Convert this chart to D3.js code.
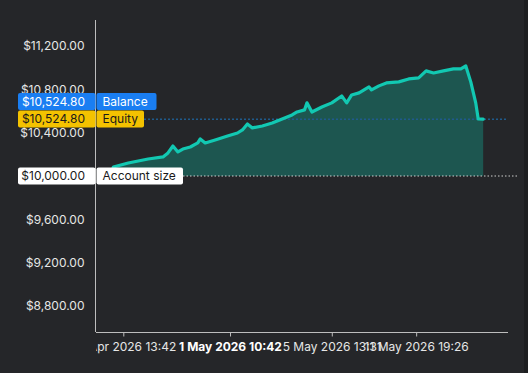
<!DOCTYPE html>
<html lang="en">
<head>
    <meta charset="UTF-8">
    <title>Equity chart</title>
    <style>
        body {
            margin: 0;
            padding: 0;
            overflow: hidden;
            background: #252629;
        }
        svg text {
            font-family: Inter, "Open Sans", sans-serif;
            font-size: 12px;
        }
    </style>
</head>
<body>
<svg id="graph" width="528" height="373"></svg>
<script src="https://cdn.jsdelivr.net/npm/d3@7"></script>
<script>
    // trade number -> equity
    const trades = [6, 7, 13, 17, 21, 27, 29, 31, 33, 35, 38, 41, 42, 44, 48, 53, 57, 59, 61, 63, 67, 71, 75, 79, 81, 84,
        85, 87, 91, 95, 99, 101, 103, 106, 108, 110, 111, 114, 117, 122, 126, 130, 133, 136, 140, 144, 147, 149, 151,
        153, 154, 156]
    const equity = [10000, 10083, 10120, 10139, 10157, 10176, 10213, 10277, 10222, 10249, 10268, 10305, 10342, 10305,
        10333, 10370, 10397, 10425, 10480, 10444, 10462, 10490, 10527, 10564, 10591, 10610, 10675, 10591, 10637, 10675,
        10739, 10675, 10748, 10767, 10795, 10822, 10795, 10832, 10859, 10869, 10896, 10906, 10970, 10951, 10970, 10989,
        10989, 11016, 10869, 10675, 10527, 10524.8]

    const yTicks = [8800, 9200, 9600, 10000, 10400, 10800, 11200]
    const xTicks = [11, 54, 95, 129]
    const xTickLabels = ["27 Apr 2026 13:42", "1 May 2026 10:42", "5 May 2026 13:31", "11 May 2026 19:26"]
    const boldTick = 1

    const accountSize = 10000
    const balance = 10524.80
    const currentEquity = 10524.80

    const money = v => "$" + d3.format(",.2f")(v)

    const svg = d3.select("#graph")
    const mLeft = 96, mRight = 508, mTop = 20, mBottom = 332

    const x = d3.scaleLinear().domain([0, 166]).range([mLeft, mRight])
    const y = d3.scaleLinear().domain([8560, 11440]).range([mBottom, mTop])

    const data = trades.map((t, i) => ({t: t, v: equity[i]}))

    // scrollbar strip on the right
    svg.append("rect").attr("x", 524).attr("y", 0).attr("width", 4).attr("height", 373).attr("fill", "#1d1e20")

    // area down to account size
    const area = d3.area().x(d => x(d.t)).y0(y(accountSize)).y1(d => y(d.v))
    svg.append("path").datum(data).attr("d", area).attr("fill", "#1d5650")

    // balance / equity dotted line
    svg.append("line")
        .attr("x1", 144).attr("x2", mRight)
        .attr("y1", y(balance)).attr("y2", y(balance))
        .attr("stroke", "#1f5a8c").attr("stroke-width", 1.5).attr("stroke-dasharray", "2,2")

    // account size dotted line
    svg.append("line")
        .attr("x1", 183).attr("x2", 518)
        .attr("y1", y(accountSize)).attr("y2", y(accountSize))
        .attr("stroke", "#cfcfcf").attr("stroke-width", 1).attr("stroke-dasharray", "1.5,2")

    // equity line
    const line = d3.line().x(d => x(d.t)).y(d => y(d.v))
    svg.append("path").datum(data).attr("d", line)
        .attr("fill", "none").attr("stroke", "#12c8b2").attr("stroke-width", 3.2)
        .attr("stroke-linejoin", "round").attr("stroke-linecap", "round")

    // y axis
    const yAxis = d3.axisLeft(y).tickValues(yTicks).tickFormat(money).tickSize(0).tickPadding(11)
    const ya = svg.append("g").attr("transform", `translate(${mLeft - 0.5},0)`).call(yAxis)
    ya.select(".domain").attr("stroke", "#bdbdbd").attr("d", `M0,${mTop}V${mBottom}`)
    ya.selectAll("text").attr("fill", "#e6e6e6").attr("font-size", 11.5)

    // x axis, labels clipped at the y axis
    svg.append("clipPath").attr("id", "xclip").append("rect")
        .attr("x", mLeft).attr("y", -400).attr("width", 528 - mLeft).attr("height", 1000)
    const xAxis = d3.axisBottom(x).tickValues(xTicks).tickFormat((d, i) => xTickLabels[i])
        .tickSize(4).tickSizeOuter(0).tickPadding(6)
    const xa = svg.append("g").attr("transform", `translate(0,${mBottom + 0.5})`)
        .attr("clip-path", "url(#xclip)").call(xAxis)
    xa.select(".domain").attr("stroke", "#bdbdbd").attr("d", `M${mLeft},0H${mRight}`)
    xa.selectAll(".tick line").attr("stroke", "#bdbdbd")
    xa.selectAll("text")
        .attr("font-weight", (d, i) => i === boldTick ? "bold" : null)
        .attr("fill", (d, i) => i === boldTick ? "#ffffff" : "#e6e6e6")

    // value tags on the left
    const tags = [
        {value: balance, name: "Balance", bg: "#1a7ef2", fg: "#ffffff", y0: 93, nameW: 60},
        {value: currentEquity, name: "Equity", bg: "#f4c200", fg: "#1a1a1a", y0: 110.5, nameW: 47.5},
        {value: accountSize, name: "Account size", bg: "#ffffff", fg: "#1a1a1a", y0: y(accountSize) - 8.5, nameW: 86.5}
    ]
    tags.forEach(tg => {
        const g = svg.append("g")
        g.append("rect").attr("x", 18).attr("y", tg.y0).attr("width", 77.5).attr("height", 17)
            .attr("rx", 2).attr("fill", tg.bg)
        g.append("rect").attr("x", 96.5).attr("y", tg.y0).attr("width", tg.nameW).attr("height", 17)
            .attr("rx", 2).attr("fill", tg.bg)
        g.append("text").attr("x", 85).attr("y", tg.y0 + 12.5).attr("text-anchor", "end")
            .attr("fill", tg.fg).attr("font-size", 12).text(money(tg.value))
        g.append("text").attr("x", 102.5).attr("y", tg.y0 + 12.5)
            .attr("fill", tg.fg).attr("font-size", 13.5).text(tg.name)
    })
</script>
</body>
</html>
